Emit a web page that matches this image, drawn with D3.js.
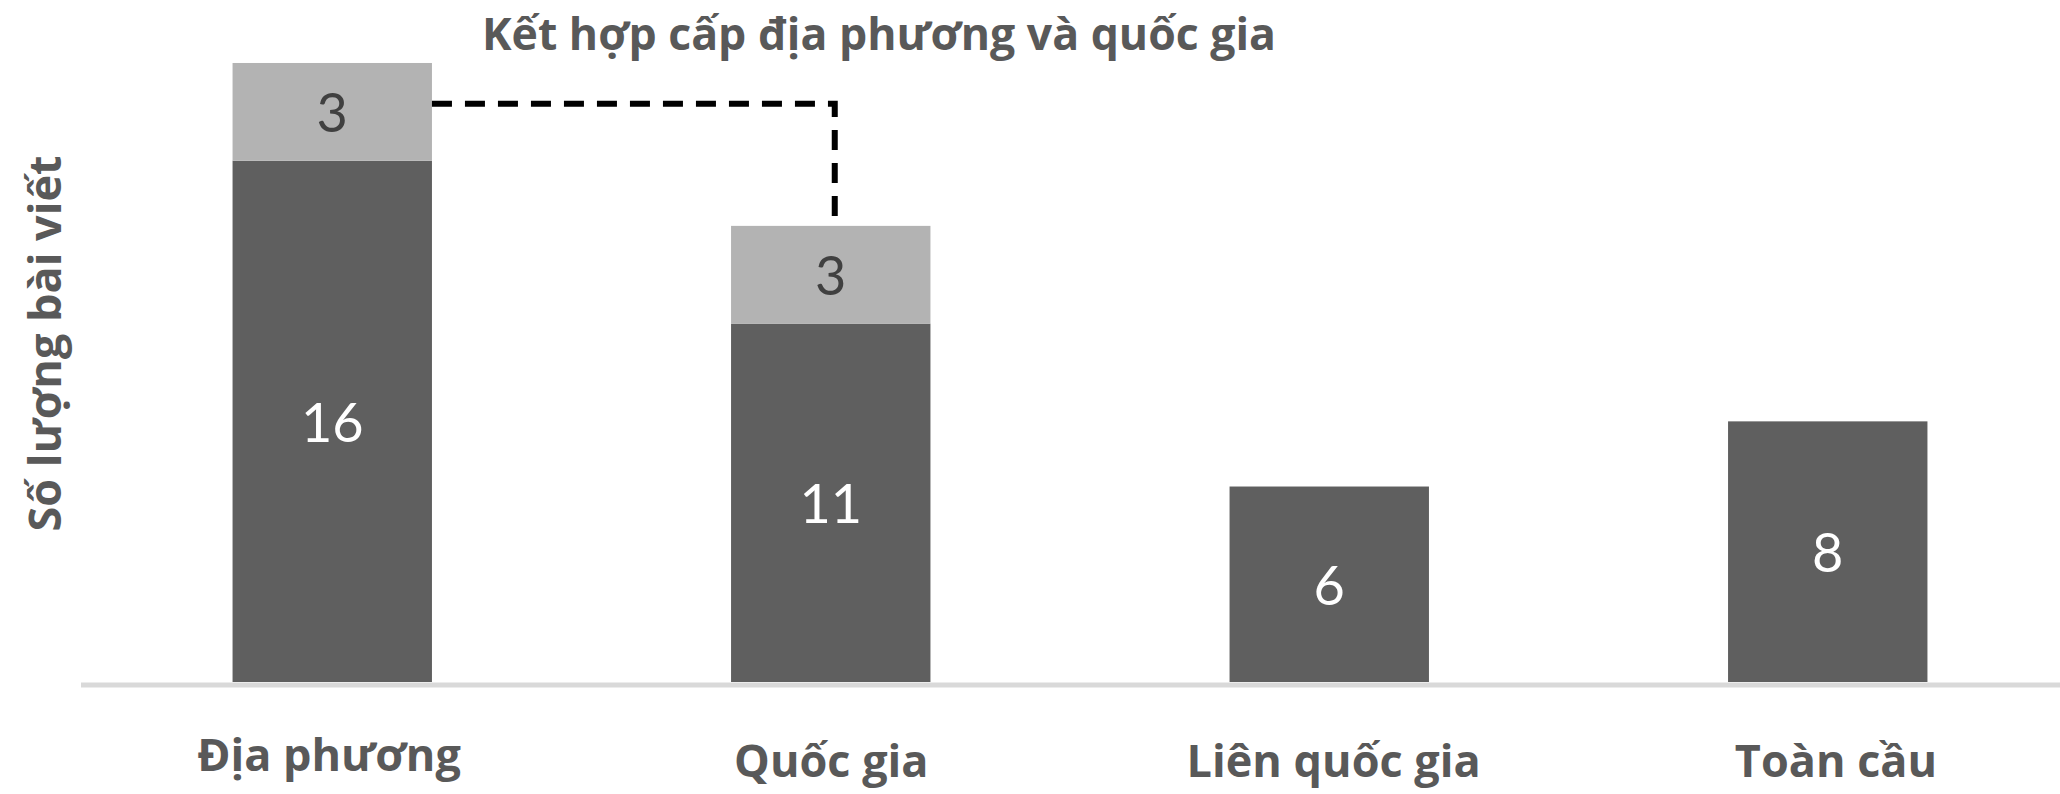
<!DOCTYPE html>
<html>
<head>
<meta charset="utf-8">
<script src="https://cdn.jsdelivr.net/npm/d3@7"></script>
<style>
  html, body { margin: 0; padding: 0; background: #ffffff; }
  svg { display: block; }
</style>
</head>
<body>
<script>
// ---- data ----
const categories = ["Địa phương", "Quốc gia", "Liên quốc gia", "Toàn cầu"];
const singleLevel = [16, 11, 6, 8];     // dark segment
const combinedLevel = [3, 3, 0, 0];     // light segment (local + national)
const annotationText = "Kết hợp cấp địa phương và quốc gia";
const yAxisTitle = "Số lượng bài viết";
const yMax = 20;

// ---- layout ----
const W = 2060, H = 794;
const baseY = 682;
const unit = 32.58;

const svg = d3.select("body").append("svg").attr("width", W).attr("height", H);

const x = d3.scaleBand().domain(categories).range([83, 2077]).paddingInner(0.6).paddingOuter(0.3);
const xLabel = d3.scalePoint().domain(categories).range([329, 1836]);
const y = d3.scaleLinear().domain([0, yMax]).range([baseY, baseY - yMax * unit]);

const rows = categories.map((c, i) => ({ c, a: singleLevel[i], b: combinedLevel[i] }));

const dark = "#5f5f5f", light = "#b3b3b3", textGray = "#595959";

// baseline axis
svg.append("line")
  .attr("x1", 81).attr("x2", W).attr("y1", baseY + 3).attr("y2", baseY + 3)
  .attr("stroke", "#d9d9d9").attr("stroke-width", 5);

// dark segments
svg.selectAll("rect.dark").data(rows).join("rect")
  .attr("class", "dark")
  .attr("x", d => x(d.c)).attr("width", x.bandwidth())
  .attr("y", d => y(d.a)).attr("height", d => y(0) - y(d.a))
  .attr("fill", dark);

// light segments
svg.selectAll("rect.light").data(rows.filter(d => d.b > 0)).join("rect")
  .attr("class", "light")
  .attr("x", d => x(d.c)).attr("width", x.bandwidth())
  .attr("y", d => y(d.a + d.b)).attr("height", d => y(d.a) - y(d.a + d.b))
  .attr("fill", light);

// value labels
svg.selectAll("text.vd").data(rows).join("text")
  .attr("class", "vd")
  .attr("x", d => x(d.c) + x.bandwidth() / 2)
  .attr("y", d => y(d.a / 2))
  .attr("dy", "0.38em")
  .attr("text-anchor", "middle")
  .attr("font-family", "Lato, sans-serif").attr("font-size", 54)
  .attr("fill", "#ffffff")
  .text(d => d.a);

svg.selectAll("text.vl").data(rows.filter(d => d.b > 0)).join("text")
  .attr("class", "vl")
  .attr("x", d => x(d.c) + x.bandwidth() / 2)
  .attr("y", d => y(d.a + d.b / 2))
  .attr("dy", "0.38em")
  .attr("text-anchor", "middle")
  .attr("font-family", "Lato, sans-serif").attr("font-size", 54)
  .attr("fill", "#404040")
  .text(d => d.b);

// connector (dashed)
const x1 = x(categories[0]) + x.bandwidth();
const x2 = x(categories[1]) + x.bandwidth() / 2 + 4;
const yConn = y(17.75);
const yEnd = y(singleLevel[1] + combinedLevel[1]);
svg.append("path")
  .attr("d", `M${x1},${yConn} H${x2} V${yEnd}`)
  .attr("fill", "none").attr("stroke", "#000").attr("stroke-width", 6)
  .attr("stroke-dasharray", "20,13");

// annotation title
svg.append("text")
  .attr("x", 879).attr("y", 50)
  .attr("text-anchor", "middle")
  .attr("font-family", "'Open Sans', sans-serif").attr("font-weight", 700).attr("font-size", 44.6)
  .attr("fill", textGray)
  .text(annotationText);

// category labels
svg.selectAll("text.cat").data(categories).join("text")
  .attr("class", "cat")
  .attr("x", d => xLabel(d))
  .attr("y", (d, i) => i === 0 ? 771 : 777)
  .attr("text-anchor", "middle")
  .attr("font-family", "'Open Sans', sans-serif").attr("font-weight", 700).attr("font-size", 45)
  .attr("fill", textGray)
  .text(d => d);

// y axis title
svg.append("text")
  .attr("transform", `translate(61, ${(155 + 532) / 2}) rotate(-90)`)
  .attr("text-anchor", "middle")
  .attr("font-family", "'Open Sans', sans-serif").attr("font-weight", 700).attr("font-size", 45)
  .attr("fill", textGray)
  .text(yAxisTitle);
</script>
</body>
</html>
